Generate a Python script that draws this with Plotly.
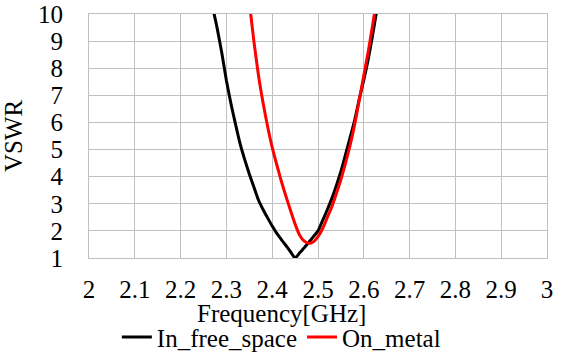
import plotly.graph_objects as go

# Frequency grid [GHz]
freq_free = [2.27, 2.28, 2.29, 2.30, 2.31, 2.32, 2.33, 2.34, 2.35, 2.36, 2.37, 2.38, 2.39,
             2.40, 2.41, 2.42, 2.43, 2.44, 2.45, 2.46, 2.47, 2.48, 2.49, 2.50, 2.51, 2.52,
             2.53, 2.54, 2.55, 2.56, 2.57, 2.58, 2.59, 2.60, 2.61, 2.62, 2.63]
vswr_free = [10.25, 9.46, 8.56, 7.55, 6.69, 5.93, 5.21, 4.63, 4.10, 3.62, 3.14, 2.79, 2.48,
             2.18, 1.91, 1.68, 1.46, 1.23, 1.00, 1.19, 1.38, 1.58, 1.79, 2.00, 2.38, 2.77,
             3.19, 3.67, 4.19, 4.81, 5.44, 6.08, 6.85, 7.57, 8.36, 9.30, 10.30]

freq_metal = [2.35, 2.36, 2.37, 2.38, 2.39, 2.40, 2.41, 2.42, 2.43, 2.44, 2.45, 2.46, 2.47,
              2.48, 2.49, 2.50, 2.51, 2.52, 2.53, 2.54, 2.55, 2.56, 2.57, 2.58, 2.59, 2.60,
              2.61, 2.62, 2.63]
vswr_metal = [10.43, 9.00, 7.74, 6.73, 5.85, 5.08, 4.44, 3.83, 3.28, 2.75, 2.25, 1.84, 1.62,
              1.54, 1.60, 1.79, 2.08, 2.48, 2.88, 3.37, 3.89, 4.50, 5.15, 5.92, 6.82, 7.73,
              8.64, 9.67, 10.75]

series_names = ["In_free_space", "On_metal"]
series_colors = ["#000000", "#ff0000"]

FONT = "Times New Roman, Liberation Serif, serif"
GRID = "#c0c0c0"

fig = go.Figure()
fig.add_trace(go.Scatter(x=freq_free, y=vswr_free, mode="lines", name=series_names[0],
                         line=dict(color=series_colors[0], width=3, shape="spline", smoothing=0.6)))
fig.add_trace(go.Scatter(x=freq_metal, y=vswr_metal, mode="lines", name=series_names[1],
                         line=dict(color=series_colors[1], width=3, shape="spline", smoothing=0.6)))

fig.update_layout(
    width=569, height=354,
    margin=dict(l=89, r=22, t=14, b=96, autoexpand=False),
    paper_bgcolor="white", plot_bgcolor="white",
    font=dict(family=FONT, size=25, color="black"),
    showlegend=True,
    legend=dict(orientation="h", x=0.42, xanchor="center", y=-0.325, yanchor="middle",
                font=dict(size=25, family=FONT), itemwidth=30, bgcolor="rgba(0,0,0,0)"),
    annotations=[dict(text="Frequency[GHz]", xref="paper", yref="paper", x=0.421, y=-0.228,
                      xanchor="center", yanchor="middle", showarrow=False,
                      font=dict(size=25, family=FONT))],
)
fig.update_xaxes(range=[2, 3], dtick=0.1, tick0=2, showgrid=True, gridcolor=GRID, gridwidth=1,
                 showline=True, linecolor=GRID, linewidth=1, mirror=True, zeroline=False,
                 automargin=False, ticks="", ticklabelstandoff=9,
                 tickfont=dict(size=25, family=FONT))
fig.update_yaxes(range=[1, 10], dtick=1, tick0=1, showgrid=True, gridcolor=GRID, gridwidth=1,
                 showline=True, linecolor=GRID, linewidth=1, mirror=True, zeroline=False,
                 automargin=False, ticks="", ticklabelstandoff=20,
                 tickfont=dict(size=25, family=FONT),
                 title=dict(text="VSWR", font=dict(size=25, family=FONT), standoff=8))

fig.write_html("out.html", config={"displayModeBar": False},
               post_script="document.body.style.margin='0';")
